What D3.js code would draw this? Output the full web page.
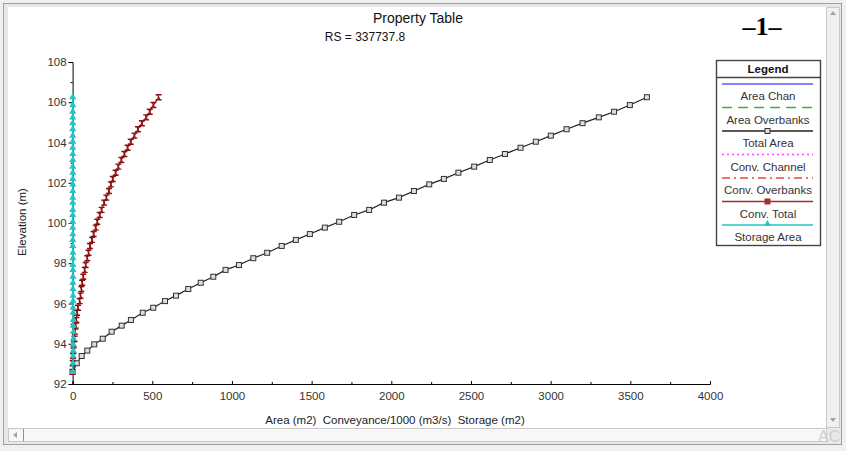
<!DOCTYPE html>
<html>
<head>
<meta charset="utf-8">
<script src="https://cdn.jsdelivr.net/npm/d3@7"></script>
<style>
  body { margin: 0; background: #f0f0f0; }
  svg { display: block; font-family: "Liberation Sans", Arial, sans-serif; }
</style>
</head>
<body>
<svg id="chart" width="846" height="451"></svg>
<script>
// elevations (m)
var elevations = [92.6, 93.03, 93.39, 93.66, 93.97, 94.25, 94.6, 94.9, 95.18, 95.54, 95.79, 96.12, 96.39, 96.72, 97.03, 97.33, 97.67, 97.91, 98.25, 98.52, 98.86, 99.16, 99.45, 99.77, 100.06, 100.4, 100.65, 101.01, 101.26, 101.59, 101.92, 102.19, 102.5, 102.8, 103.13, 103.43, 103.74, 104.04, 104.34, 104.66, 104.96, 105.25, 105.53, 105.86, 106.25];
var totalArea = [0, 26, 57, 92, 136, 189, 245, 308, 366, 440, 506, 580, 649, 726, 804, 883, 960, 1044, 1134, 1221, 1312, 1401, 1489, 1583, 1673, 1767, 1861, 1954, 2048, 2142, 2238, 2330, 2421, 2520, 2618, 2713, 2811, 2907, 3001, 3100, 3200, 3302, 3398, 3497, 3604];
var convTotal = [0, 1, 3, 5, 8, 12, 16, 20, 24, 28, 34, 44, 50, 55, 60, 67, 76, 82, 92, 100, 109, 122, 132, 145, 155, 170, 182, 198, 212, 228, 240, 252, 270, 287, 306, 325, 345, 365, 388, 410, 435, 462, 484, 507, 540];
var storageArea = [0, 2, 3, 4, 4, 5, 5, 4, 4, 3, 3, 3, 3, 2, 2, 2, 2, 2, 2, 2, 1, 1, 1, 1, 1, 1, 1, 1, 1, 1, 1, 1, 1, 1, 1, 1, 1, 1, 1, 1, 1, 1, 1, 1, 1];

var xTicks = [0, 500, 1000, 1500, 2000, 2500, 3000, 3500, 4000];
var yTicks = [92, 94, 96, 98, 100, 102, 104, 106, 108];
var legendNames = ["Area Chan", "Area Overbanks", "Total Area", "Conv. Channel", "Conv. Overbanks", "Conv. Total", "Storage Area"];

var svg = d3.select("#chart");

// window frame
svg.append("rect").attr("x", 0).attr("y", 0).attr("width", 846).attr("height", 451).attr("fill", "#f0f0f0");
svg.append("rect").attr("x", 3.5).attr("y", 3.5).attr("width", 838).attr("height", 441)
  .attr("fill", "#e8e8e8").attr("stroke", "#a0a0a0");
svg.append("rect").attr("x", 8).attr("y", 7).attr("width", 818).attr("height", 421).attr("fill", "#fff");
// right scrollbar
svg.append("rect").attr("x", 826.5).attr("y", 7.5).attr("width", 13).attr("height", 420)
  .attr("fill", "#f0f0f0").attr("stroke", "#c8c8c8");
svg.append("path").attr("d", "M830,15 L833,11 L836,15 Z").attr("fill", "#a0a0a0");
svg.append("path").attr("d", "M830,418 L833,422 L836,418 Z").attr("fill", "#a0a0a0");
// bottom scrollbar
svg.append("rect").attr("x", 8.5).attr("y", 428.5).attr("width", 818).attr("height", 13)
  .attr("fill", "#f7f7f7").attr("stroke", "#c8c8c8");
svg.append("path").attr("d", "M17,432 L13,435 L17,438 Z").attr("fill", "#a0a0a0");
svg.append("line").attr("x1", 23.5).attr("x2", 23.5).attr("y1", 429).attr("y2", 441).attr("stroke", "#909090");
svg.append("text").attr("x", 818).attr("y", 442).attr("font-size", 16).attr("fill", "#d0d0d0").text("AC");

// plot area
var x = d3.scaleLinear().domain([0, 4000]).range([72.6, 710]);
var y = d3.scaleLinear().domain([92, 108]).range([384, 62]);

svg.append("g").attr("transform", "translate(0," + y(92) + ")")
  .call(d3.axisBottom(x).tickValues(xTicks).tickSize(-3).tickPadding(8).tickFormat(d3.format("d")));
svg.append("g").attr("transform", "translate(0," + y(92) + ")")
  .call(d3.axisBottom(x).tickValues(d3.range(250, 4000, 500)).tickSize(-2).tickFormat(""))
  .select(".domain").remove();

svg.append("g").attr("transform", "translate(" + x(0) + ",0)")
  .call(d3.axisLeft(y).tickValues(yTicks).tickSize(4).tickPadding(2).tickFormat(d3.format("d")));
svg.append("g").attr("transform", "translate(" + x(0) + ",0)")
  .call(d3.axisLeft(y).tickValues(d3.range(93, 108, 2)).tickSize(2).tickFormat(""))
  .select(".domain").remove();

svg.selectAll(".domain").attr("stroke", "#000").attr("stroke-width", 1);
svg.selectAll(".tick line").attr("stroke", "#000");
svg.selectAll(".tick text").attr("font-size", 11.5).attr("fill", "#333").attr("font-family", "Liberation Sans, Arial, sans-serif");

// axis titles
svg.append("text").attr("x", 395).attr("y", 424).attr("text-anchor", "middle")
  .style("white-space", "pre")
  .attr("font-size", 11.5).attr("fill", "#222").text("Area (m2)  Conveyance/1000 (m3/s)  Storage (m2)");
svg.append("text").attr("transform", "translate(26,222) rotate(-90)").attr("text-anchor", "middle")
  .attr("font-size", 11.5).attr("fill", "#222").text("Elevation (m)");

// titles
svg.append("text").attr("x", 418).attr("y", 23).attr("text-anchor", "middle")
  .attr("font-size", 14).attr("fill", "#111").text("Property Table");
svg.append("text").attr("x", 365).attr("y", 41).attr("text-anchor", "middle")
  .attr("font-size", 12).attr("fill", "#111").text("RS = 337737.8");
svg.append("text").attr("x", 762).attr("y", 35).attr("text-anchor", "middle")
  .attr("font-family", "Liberation Serif, Times New Roman, serif").attr("font-weight", "bold")
  .attr("font-size", 26).attr("fill", "#000").text("\u20131\u2013");

// series
var series = [
  { name: "Total Area", values: totalArea, color: "#222", marker: "square" },
  { name: "Conv. Total", values: convTotal, color: "#8b1010", marker: "fsquare" },
  { name: "Storage Area", values: storageArea, color: "#22c4c4", marker: "triangle" }
];

var line = d3.line().x(function (d) { return x(d[0]); }).y(function (d) { return y(d[1]); });

series.forEach(function (s) {
  var pts = s.values.map(function (v, i) { return [v, elevations[i]]; });
  svg.append("path").datum(pts).attr("d", line).attr("fill", "none")
    .attr("stroke", s.color).attr("stroke-width", 1.2);
  var g = svg.append("g");
  if (s.marker === "square") {
    g.selectAll("rect").data(pts).enter().append("rect")
      .attr("x", function (d) { return x(d[0]) - 2.5; })
      .attr("y", function (d) { return y(d[1]) - 2.5; })
      .attr("width", 5).attr("height", 5)
      .attr("fill", "#ddd").attr("stroke", "#333").attr("stroke-width", 1);
  } else if (s.marker === "fsquare") {
    g.selectAll("path").data(pts).enter().append("path")
      .attr("transform", function (d) { return "translate(" + x(d[0]) + "," + y(d[1]) + ")"; })
      .attr("d", "M-3,-2.5 L3,-2.5 M-3,2.5 L3,2.5 M-1,-2.5 L1,2.5")
      .attr("stroke", s.color).attr("stroke-width", 1.4).attr("fill", "none");
  } else {
    g.selectAll("path").data(pts).enter().append("path")
      .attr("transform", function (d) { return "translate(" + x(d[0]) + "," + y(d[1]) + ")"; })
      .attr("d", d3.symbol(d3.symbolTriangle, 22))
      .attr("fill", s.color);
  }
});

// legend
var lg = svg.append("g").attr("transform", "translate(716,60)");
lg.append("rect").attr("x", 0.5).attr("y", 0.5).attr("width", 104).attr("height", 185)
  .attr("fill", "#fff").attr("stroke", "#444").attr("stroke-width", 1.4);
lg.append("line").attr("x1", 0).attr("x2", 105).attr("y1", 17.5).attr("y2", 17.5).attr("stroke", "#444").attr("stroke-width", 1.4);
lg.append("text").attr("x", 52).attr("y", 13).attr("text-anchor", "middle")
  .attr("font-size", 11.5).attr("font-weight", "bold").attr("fill", "#111").text("Legend");

var legendStyles = [
  { color: "#5a5aff", dash: null },
  { color: "#44aa44", dash: "10,6" },
  { color: "#222", dash: null, marker: "square" },
  { color: "#ff44ff", dash: "2,3" },
  { color: "#ee4444", dash: "8,4,2,4" },
  { color: "#a03030", dash: null, marker: "fsquare" },
  { color: "#22c4c4", dash: null, marker: "triangle" }
];

legendNames.forEach(function (name, i) {
  var st = legendStyles[i];
  var ly = 24 + i * 23.5;
  lg.append("line").attr("x1", 6).attr("x2", 97).attr("y1", ly).attr("y2", ly)
    .attr("stroke", st.color).attr("stroke-width", 1.3).attr("stroke-dasharray", st.dash);
  if (st.marker === "square") {
    lg.append("rect").attr("x", 49).attr("y", ly - 2.5).attr("width", 5).attr("height", 5)
      .attr("fill", "#ddd").attr("stroke", "#333");
  } else if (st.marker === "fsquare") {
    lg.append("rect").attr("x", 48.5).attr("y", ly - 3).attr("width", 6).attr("height", 6)
      .attr("fill", st.color);
  } else if (st.marker === "triangle") {
    lg.append("path").attr("transform", "translate(51.5," + (ly - 1) + ")")
      .attr("d", d3.symbol(d3.symbolTriangle, 20)).attr("fill", st.color);
  }
  lg.append("text").attr("x", 52).attr("y", ly + 16).attr("text-anchor", "middle")
    .attr("font-size", 11.5).attr("fill", "#333").text(name);
});
</script>
</body>
</html>
